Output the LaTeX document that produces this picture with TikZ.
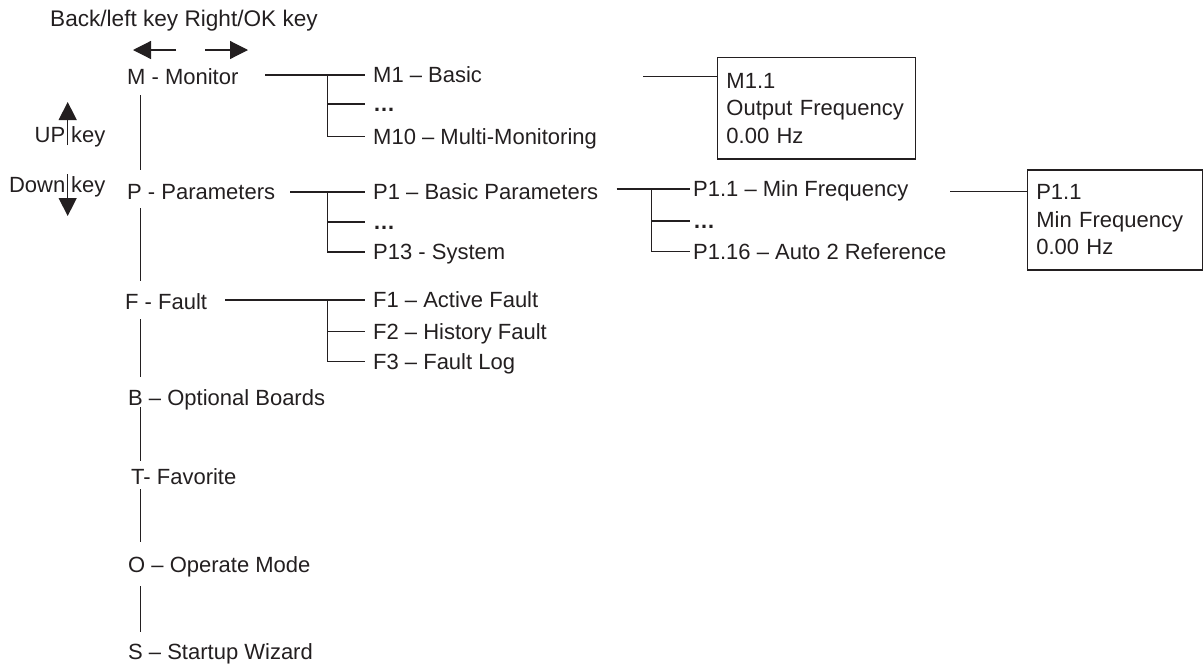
\documentclass[tikz,border=0pt]{standalone}
\usepackage{fontspec}
\setmainfont{Liberation Sans}
\usetikzlibrary{arrows.meta,calc}
\definecolor{ink}{HTML}{231F20}
\begin{document}
\begin{tikzpicture}[x=1pt,y=-1pt,
  lbl/.style={font=\fontsize{22}{27.5}\selectfont, text=ink, inner sep=0pt, anchor=west, text height=15.75pt, text depth=0pt},
  dots/.style={lbl, font=\fontsize{22}{27.5}\selectfont\bfseries},
  conn/.style={draw=ink, line width=1.2pt},
  keyarrow/.style={draw=ink, line width=1.2pt, -{Triangle[length=18pt,width=18pt]}},
  infobox/.style={draw=ink, line width=1.2pt, anchor=north west, align=left, text=ink, font=\fontsize{22}{27.5}\selectfont, inner xsep=9pt, inner ysep=0pt}]
\useasboundingbox (0,0) rectangle (1203,665);

% header and key arrows
\node[lbl, font=\fontsize{22.6}{27.5}\selectfont] (hdr) at (50,19) {Back/left key Right/OK key};
\coordinate (la0) at (176,50); \coordinate (la1) at (133,50);
\coordinate (ra0) at (205,50); \coordinate (ra1) at (248,50);
\draw[keyarrow] (la0) -- (la1);
\draw[keyarrow] (ra0) -- (ra1);
\coordinate (ua0) at (67.7,145); \coordinate (ua1) at (67.7,102);
\coordinate (da0) at (67.7,174); \coordinate (da1) at (67.7,216);
\draw[keyarrow] (ua0) -- (ua1);
\draw[keyarrow] (da0) -- (da1);
\node[lbl, anchor=east] (up) at (65.5,135) {UP};
\node[lbl] (upkey) at (71,135) {key};
\node[lbl, anchor=east] (down) at (65.5,185) {Down};
\node[lbl] (downkey) at (71,185) {key};

% top level menu
\node[lbl] (M) at (127,77) {M - Monitor};
\node[lbl] (P) at (127,192) {P - Parameters};
\node[lbl] (F) at (125,302) {F - Fault};
\node[lbl] (B) at (128,398) {B – Optional Boards};
\node[lbl] (T) at (131,477) {T- Favorite};
\node[lbl] (O) at (128,565) {O – Operate Mode};
\node[lbl] (S) at (128,652) {S – Startup Wizard};

\coordinate (tx) at (140.7,0);
\draw[conn, shorten <=10pt, shorten >=14pt] (tx |- M.south) -- (tx |- P.north);
\draw[conn, shorten <=8pt, shorten >=13pt] (tx |- P.south) -- (tx |- F.north);
\draw[conn, shorten <=9pt, shorten >=13pt] (tx |- F.south) -- (tx |- B.north);
\draw[conn, shorten <=1pt, shorten >=8pt] (tx |- B.south) -- (tx |- T.north);
\draw[conn, shorten <=4pt, shorten >=15pt] (tx |- T.south) -- (tx |- O.north);
\draw[conn, shorten <=13pt, shorten >=12pt] (tx |- O.south) -- (tx |- S.north);

% M submenu
\node[lbl] (M1) at (373,75) {M1 – Basic};
\node[dots] (Mdots) at (373,104) {…};
\node[lbl] (M10) at (373,136.7) {M10 – Multi-Monitoring};
\coordinate (ms) at (265,75);
\coordinate (mj) at (327.7,0);
\draw[conn, shorten >=8pt] (ms) -- (M1.west);
\draw[conn, shorten >=8pt] (mj |- M1.west) |- (M10.west);
\draw[conn, shorten >=8pt] (mj |- Mdots.west) -- (Mdots.west);

% P submenu
\node[lbl] (P1) at (373,192) {P1 – Basic Parameters};
\node[dots] (Pdots) at (373,222) {…};
\node[lbl] (P13) at (373,252) {P13 - System};
\coordinate (ps) at (290,192);
\draw[conn, shorten >=8pt] (ps) -- (P1.west);
\draw[conn, shorten >=8pt] (mj |- P1.west) |- (P13.west);
\draw[conn, shorten >=8pt] (mj |- Pdots.west) -- (Pdots.west);

% P1 submenu
\node[lbl] (P11) at (693,189) {P1.1 – Min Frequency};
\node[dots] (P1dots) at (693,221) {…};
\node[lbl] (P116) at (693,251.7) {P1.16 – Auto 2 Reference};
\coordinate (pps) at (616.7,189);
\coordinate (pj) at (651.7,0);
\draw[conn, shorten >=3pt] (pps) -- (P11.west);
\draw[conn, shorten >=3pt] (pj |- P11.west) |- (P116.west);
\draw[conn, shorten >=3pt] (pj |- P1dots.west) -- (P1dots.west);

% F submenu
\node[lbl] (F1) at (373,300) {F1 – Active Fault};
\node[lbl] (F2) at (373,331.7) {F2 – History Fault};
\node[lbl] (F3) at (373,361.7) {F3 – Fault Log};
\coordinate (fs) at (225,300);
\draw[conn, shorten >=8pt] (fs) -- (F1.west);
\draw[conn, shorten >=8pt] (mj |- F1.west) |- (F3.west);
\draw[conn, shorten >=8pt] (mj |- F2.west) -- (F2.west);

% value boxes
\node[infobox, minimum width=198.3pt, minimum height=101.6pt, text width=180pt] (box1) at (716.7,56.7) {M1.1\\Output Frequency\\0.00 Hz};
\node[infobox, minimum width=175pt, minimum height=100pt, text width=157pt] (box2) at (1026.7,169.3) {P1.1\\Min Frequency\\0.00 Hz};
\coordinate (b1s) at (643,76.7);
\coordinate (b2s) at (950,191.7);
\draw[conn] (b1s) -- (b1s -| box1.west);
\draw[conn] (b2s) -- (b2s -| box2.west);
\end{tikzpicture}
\end{document}
